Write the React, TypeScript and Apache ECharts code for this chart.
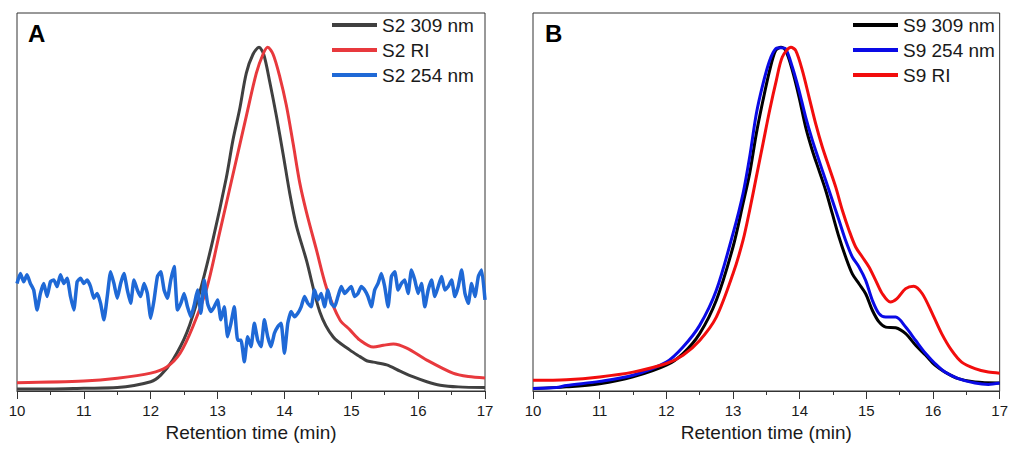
import React, { useEffect, useRef } from "react";
import * as echarts from "echarts";

// Panel A — sample S2
const s2_309_t = [10, 10.5, 11, 11.5, 12, 12.15, 12.33, 12.54, 12.73, 12.93, 13.13, 13.23, 13.33, 13.43, 13.53, 13.62, 13.69, 13.78, 13.88, 13.98, 14.08, 14.18, 14.33, 14.53, 14.73, 14.98, 15.13, 15.23, 15.33, 15.53, 15.73, 15.93, 16.13, 16.33, 16.6, 17];
const s2_309_v = [0.006, 0.006, 0.008, 0.01, 0.027, 0.046, 0.09, 0.17, 0.285, 0.44, 0.62, 0.73, 0.82, 0.925, 0.98, 1.0, 0.98, 0.9, 0.8, 0.69, 0.575, 0.48, 0.38, 0.23, 0.157, 0.119, 0.1, 0.088, 0.084, 0.076, 0.058, 0.041, 0.027, 0.017, 0.012, 0.01];

const s2_ri_t = [10, 11, 11.5, 12, 12.24, 12.44, 12.63, 12.84, 13.03, 13.23, 13.43, 13.58, 13.68, 13.75, 13.83, 13.93, 14.03, 14.13, 14.23, 14.33, 14.48, 14.63, 14.83, 14.98, 15.13, 15.33, 15.48, 15.63, 15.83, 16.13, 16.52, 16.75, 17];
const s2_ri_v = [0.024, 0.029, 0.037, 0.052, 0.07, 0.11, 0.187, 0.3, 0.46, 0.63, 0.8, 0.925, 0.98, 1.0, 0.98, 0.915, 0.83, 0.72, 0.605, 0.52, 0.41, 0.3, 0.207, 0.178, 0.148, 0.128, 0.133, 0.137, 0.125, 0.09, 0.052, 0.042, 0.038];

const s2_254_t = [
  10, 10.05, 10.1, 10.15, 10.2, 10.25, 10.3, 10.35, 10.4, 10.45,
  10.5, 10.55, 10.6, 10.65, 10.7, 10.75, 10.8, 10.85, 10.9, 10.95,
  11, 11.05, 11.1, 11.15, 11.2, 11.25, 11.3, 11.35, 11.4, 11.45,
  11.5, 11.55, 11.6, 11.65, 11.7, 11.75, 11.8, 11.85, 11.9, 11.95,
  12, 12.05, 12.1, 12.15, 12.2, 12.25, 12.3, 12.35, 12.4, 12.45,
  12.5, 12.55, 12.6, 12.65, 12.7, 12.75, 12.8, 12.85, 12.9, 12.95,
  13, 13.05, 13.1, 13.15, 13.2, 13.25, 13.3, 13.35, 13.4, 13.45,
  13.5, 13.55, 13.6, 13.65, 13.7, 13.75, 13.8, 13.85, 13.9, 13.95,
  14, 14.05, 14.1, 14.15, 14.2, 14.25, 14.3, 14.35, 14.4, 14.45,
  14.5, 14.55, 14.6, 14.65, 14.7, 14.75, 14.8, 14.85, 14.9, 14.95,
  15, 15.05, 15.1, 15.15, 15.2, 15.25, 15.3, 15.35, 15.4, 15.45,
  15.5, 15.55, 15.6, 15.65, 15.7, 15.75, 15.8, 15.85, 15.9, 15.95,
  16, 16.05, 16.1, 16.15, 16.2, 16.25, 16.3, 16.35, 16.4, 16.45,
  16.5, 16.55, 16.6, 16.65, 16.7, 16.75, 16.8, 16.85, 16.9, 16.95,
  17,
];
const s2_254_v = [
  0.313, 0.342, 0.318, 0.338, 0.313, 0.294, 0.236, 0.284, 0.313, 0.275,
  0.318, 0.323, 0.304, 0.338, 0.313, 0.328, 0.275, 0.236, 0.318, 0.328,
  0.313, 0.323, 0.304, 0.27, 0.284, 0.255, 0.207, 0.275, 0.347, 0.313,
  0.27, 0.313, 0.342, 0.294, 0.255, 0.323, 0.294, 0.275, 0.313, 0.284,
  0.212, 0.265, 0.333, 0.347, 0.294, 0.27, 0.323, 0.362, 0.236, 0.255,
  0.284, 0.245, 0.216, 0.25, 0.294, 0.226, 0.323, 0.255, 0.231, 0.245,
  0.265, 0.207, 0.245, 0.158, 0.197, 0.245, 0.148, 0.148, 0.085, 0.158,
  0.129, 0.197, 0.148, 0.129, 0.207, 0.158, 0.129, 0.168, 0.187, 0.197,
  0.11, 0.197, 0.231, 0.216, 0.226, 0.245, 0.275, 0.255, 0.245, 0.294,
  0.265, 0.284, 0.245, 0.294, 0.255, 0.245, 0.275, 0.304, 0.284, 0.294,
  0.304, 0.275, 0.284, 0.304, 0.294, 0.275, 0.245, 0.294, 0.313, 0.342,
  0.304, 0.245, 0.333, 0.347, 0.294, 0.313, 0.323, 0.284, 0.352, 0.323,
  0.284, 0.313, 0.245, 0.294, 0.323, 0.275, 0.304, 0.333, 0.294, 0.304,
  0.323, 0.275, 0.304, 0.352, 0.284, 0.255, 0.313, 0.275, 0.333, 0.352,
  0.265,
];

// Panel B — sample S9
const s9_309_t = [10, 10.5, 11, 11.5, 12, 12.25, 12.5, 12.75, 13, 13.15, 13.25, 13.35, 13.45, 13.55, 13.64, 13.72, 13.79, 13.89, 13.99, 14.09, 14.19, 14.29, 14.39, 14.49, 14.59, 14.69, 14.79, 14.89, 14.99, 15.09, 15.19, 15.29, 15.44, 15.59, 15.74, 15.89, 16.03, 16.18, 16.38, 16.63, 17];
const s9_309_v = [0.007, 0.012, 0.021, 0.041, 0.075, 0.109, 0.167, 0.264, 0.419, 0.545, 0.633, 0.749, 0.846, 0.933, 0.991, 1.0, 0.991, 0.933, 0.856, 0.768, 0.7, 0.642, 0.584, 0.516, 0.448, 0.39, 0.341, 0.312, 0.283, 0.235, 0.201, 0.186, 0.184, 0.167, 0.133, 0.104, 0.075, 0.055, 0.036, 0.026, 0.023];

const s9_254_t = [10, 10.35, 10.5, 11, 11.5, 12, 12.25, 12.5, 12.75, 13, 13.15, 13.25, 13.35, 13.45, 13.55, 13.64, 13.72, 13.79, 13.89, 13.99, 14.09, 14.19, 14.29, 14.39, 14.49, 14.59, 14.69, 14.79, 14.89, 14.99, 15.09, 15.19, 15.29, 15.44, 15.59, 15.74, 15.89, 16.03, 16.18, 16.38, 16.63, 16.83, 17];
const s9_254_v = [0.007, 0.01, 0.016, 0.028, 0.046, 0.084, 0.128, 0.191, 0.293, 0.458, 0.574, 0.681, 0.807, 0.894, 0.962, 0.996, 0.999, 0.996, 0.943, 0.875, 0.797, 0.73, 0.671, 0.613, 0.555, 0.497, 0.438, 0.39, 0.361, 0.322, 0.264, 0.225, 0.215, 0.215, 0.186, 0.147, 0.109, 0.08, 0.055, 0.036, 0.023, 0.019, 0.023];

const s9_ri_t = [10, 10.5, 11, 11.5, 12, 12.25, 12.5, 12.75, 13, 13.15, 13.25, 13.35, 13.45, 13.55, 13.65, 13.74, 13.87, 13.94, 14.04, 14.14, 14.24, 14.34, 14.44, 14.54, 14.64, 14.74, 14.84, 14.94, 15.04, 15.14, 15.24, 15.36, 15.46, 15.59, 15.71, 15.84, 15.99, 16.13, 16.28, 16.43, 16.63, 16.83, 17];
const s9_ri_v = [0.031, 0.033, 0.041, 0.055, 0.08, 0.104, 0.147, 0.215, 0.341, 0.438, 0.526, 0.623, 0.72, 0.817, 0.904, 0.972, 1.0, 0.991, 0.933, 0.856, 0.778, 0.71, 0.652, 0.594, 0.526, 0.468, 0.419, 0.39, 0.361, 0.322, 0.283, 0.259, 0.269, 0.298, 0.305, 0.283, 0.225, 0.167, 0.118, 0.084, 0.065, 0.055, 0.052];

const xTicks = { min: 10, max: 17, interval: 1 };
const yRange = { min: 0, max: 1.1 };
const FONT = "Arial, 'Liberation Sans', sans-serif";

const zip = (t: number[], v: number[]) => t.map((x, i) => [x, v[i]]);

function makeXAxis(gridIndex: number) {
  return {
    type: "value",
    gridIndex,
    min: xTicks.min,
    max: xTicks.max,
    interval: xTicks.interval,
    axisLine: { show: true, onZero: false, lineStyle: { color: "#333", width: 1 } },
    axisTick: { show: true, length: 8, lineStyle: { color: "#333", width: 1 } },
    minorTick: { show: true, splitNumber: 2, length: 4, lineStyle: { color: "#333", width: 1 } },
    splitLine: { show: false },
    minorSplitLine: { show: false },
    axisLabel: { fontSize: 15, color: "#1a1a1a", margin: 12, fontFamily: FONT },
    name: "Retention time (min)",
    nameLocation: "middle",
    nameGap: 32,
    nameTextStyle: { fontSize: 19, color: "#1a1a1a", fontFamily: FONT },
  };
}

function makeYAxis(gridIndex: number) {
  return { type: "value", gridIndex, min: yRange.min, max: yRange.max, show: false };
}

function line(name: string, t: number[], v: number[], color: string, idx: number, smooth: number | boolean, width = 3) {
  return {
    name,
    type: "line",
    xAxisIndex: idx,
    yAxisIndex: idx,
    data: zip(t, v),
    showSymbol: false,
    symbol: "none",
    smooth,
    lineStyle: { width, color, join: "round" },
    itemStyle: { color },
  };
}

function legend(left: number, names: string[]) {
  return {
    left,
    top: 15,
    orient: "vertical",
    icon: "rect",
    itemWidth: 45,
    itemHeight: 4,
    itemGap: 5,
    padding: 0,
    selectedMode: false,
    textStyle: { fontSize: 19, lineHeight: 20, color: "#1a1a1a", fontFamily: FONT },
    data: names,
  };
}

export default function App() {
  const ref = useRef<HTMLDivElement>(null);
  useEffect(() => {
    if (!ref.current) return;
    const chart = echarts.init(ref.current, null, { renderer: "svg" });
    chart.setOption({
      animation: false,
      backgroundColor: "#fff",
      grid: [
        { left: 17, top: 13, width: 468, height: 378, show: true, borderColor: "#333", borderWidth: 1 },
        { left: 533, top: 13, width: 468, height: 378, show: true, borderColor: "#333", borderWidth: 1 },
      ],
      xAxis: [makeXAxis(0), makeXAxis(1)],
      yAxis: [makeYAxis(0), makeYAxis(1)],
      legend: [
        legend(332, ["S2 309 nm", "S2 RI", "S2 254 nm"]),
        legend(853, ["S9 309 nm", "S9 254 nm", "S9 RI"]),
      ],
      graphic: [
        { type: "text", left: 28, top: 21, style: { text: "A", font: `bold 24px ${FONT}`, fill: "#000" } },
        { type: "text", left: 545, top: 21, style: { text: "B", font: `bold 24px ${FONT}`, fill: "#000" } },
      ],
      series: [
        line("S2 309 nm", s2_309_t, s2_309_v, "#404040", 0, 0.3),
        line("S2 RI", s2_ri_t, s2_ri_v, "#e8393d", 0, 0.3),
        line("S2 254 nm", s2_254_t, s2_254_v, "#1f69d6", 0, 0.15, 3.5),
        line("S9 309 nm", s9_309_t, s9_309_v, "#000000", 1, 0.3),
        line("S9 254 nm", s9_254_t, s9_254_v, "#0a0ae6", 1, 0.3),
        line("S9 RI", s9_ri_t, s9_ri_v, "#f20d0d", 1, 0.3),
      ],
    });
    return () => chart.dispose();
  }, []);
  return (
    <div
      ref={ref}
      style={{ position: "fixed", left: 0, top: 0, width: 1011, height: 450, background: "#fff" }}
    />
  );
}
